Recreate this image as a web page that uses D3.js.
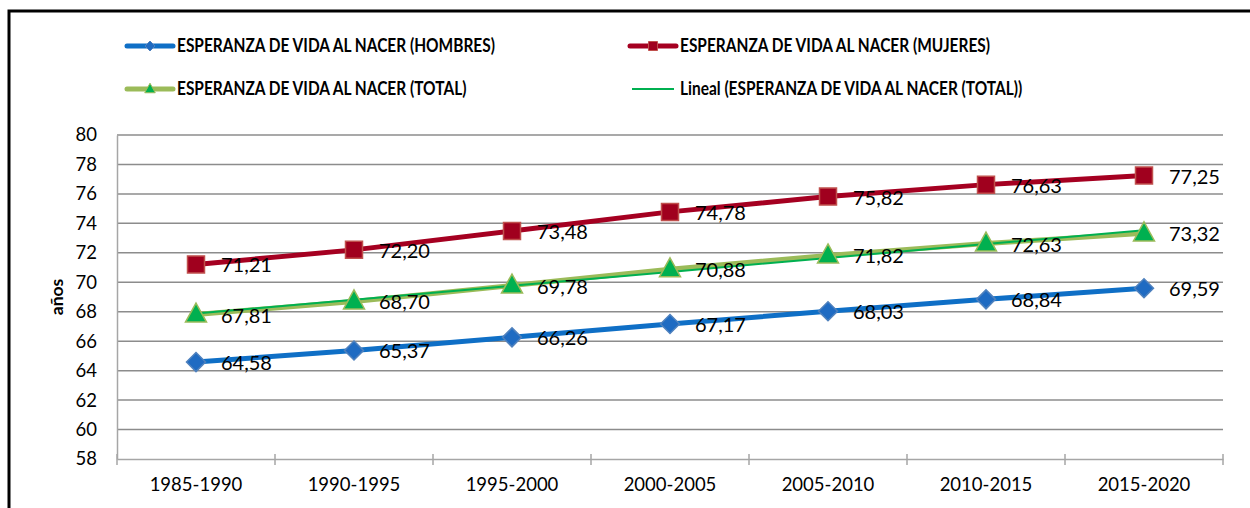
<!DOCTYPE html>
<html><head><meta charset="utf-8">
<script src="https://cdn.jsdelivr.net/npm/d3@7"></script>
<style>
html,body{margin:0;padding:0;background:#fff;}
svg{display:block;font-family:Lato,"Open Sans",sans-serif;}
</style></head>
<body><svg id="c" width="1250" height="508"></svg>
<script>
const categories = ["1985-1990","1990-1995","1995-2000","2000-2005","2005-2010","2010-2015","2015-2020"];
const hombres = [64.58,65.37,66.26,67.17,68.03,68.84,69.59];
const mujeres = [71.21,72.20,73.48,74.78,75.82,76.63,77.25];
const total   = [67.81,68.70,69.78,70.88,71.82,72.63,73.32];
const yTicks = [58,60,62,64,66,68,70,72,74,76,78,80];
const legendLabels = ["ESPERANZA DE VIDA AL NACER (HOMBRES)","ESPERANZA DE VIDA AL NACER (MUJERES)","ESPERANZA DE VIDA AL NACER (TOTAL)","Lineal (ESPERANZA DE VIDA AL NACER (TOTAL))"];
const yTitle = "años";

const svg = d3.select("#c");
// outer frame
svg.append("rect").attr("x",9).attr("y",11).attr("width",1260).attr("height",520)
  .attr("fill","none").attr("stroke","#000").attr("stroke-width",3);

const L=117,R=1223,T=135,B=459;
const x = d3.scaleBand().domain(categories).range([L,R]);
const y = d3.scaleLinear().domain([58,80]).range([B,T]);
const cx = d => x(d)+x.bandwidth()/2;

// gridlines
svg.append("g").selectAll("line").data(yTicks.slice(1)).join("line")
  .attr("x1",L).attr("x2",R).attr("y1",d=>y(d)).attr("y2",d=>y(d))
  .attr("stroke","#8c8c8c").attr("stroke-width",1.5);

// y axis
const yAx = svg.append("g").attr("transform",`translate(${L},0)`)
  .call(d3.axisLeft(y).tickValues(yTicks).tickSize(0).tickPadding(20).tickFormat(d3.format("d")));
yAx.select(".domain").attr("stroke","#a6a6a6").attr("stroke-width",1.5);
yAx.selectAll("text").attr("font-size",18.5).attr("fill","#000").attr("font-family","Lato,'Open Sans',sans-serif");

// x axis
const xAx = svg.append("g").attr("transform",`translate(0,${B})`)
  .call(d3.axisBottom(x).tickSize(0).tickPadding(19));
xAx.select(".domain").attr("stroke","#a6a6a6").attr("stroke-width",1.5);
xAx.selectAll("text").attr("font-size",18.5).attr("fill","#000").attr("font-family","Lato,'Open Sans',sans-serif");
// boundary tick marks
const bounds = categories.map(c=>x(c)).concat([R]);
svg.append("g").selectAll("line").data(bounds).join("line")
  .attr("x1",d=>d).attr("x2",d=>d).attr("y1",B-5).attr("y2",B+6)
  .attr("stroke","#a6a6a6").attr("stroke-width",1.5);

// y title
svg.append("text").attr("transform",`translate(63,${(T+B)/2}) rotate(-90)`)
  .attr("text-anchor","middle").attr("font-weight","bold").attr("font-size",17.5).text(yTitle);

const line = d3.line().x((d,i)=>cx(categories[i])).y(d=>y(d));

// trend line for total (least squares)
const n = total.length, xs = d3.range(1,n+1);
const mx = d3.mean(xs), my = d3.mean(total);
const slope = d3.sum(xs.map((v,i)=>(v-mx)*(total[i]-my)))/d3.sum(xs.map(v=>(v-mx)*(v-mx)));
const icpt = my - slope*mx;
const trend = xs.map(v=>icpt+slope*v);

const series = [
  {vals:hombres, color:"#0f6fc6", w:5, marker:"diamond", fill:"#1f6bc2", stroke:"#4f81bd"},
  {vals:mujeres, color:"#a50021", w:5, marker:"square", fill:"#a0001e", stroke:"#c0504d"},
  {vals:total, color:"#9bbb59", w:5, marker:"triangle", fill:"#00b050", stroke:"#9bbb59"}
];
series.forEach(s=>{
  svg.append("path").datum(s.vals).attr("d",line).attr("fill","none")
    .attr("stroke",s.color).attr("stroke-width",s.w).attr("stroke-linejoin","round");
});
svg.append("path").datum(trend).attr("d",line).attr("fill","none").attr("stroke","#00b050").attr("stroke-width",2);

function marker(g,type,cxp,cyp,size,fill,stroke,sw){
  let p;
  if(type==="diamond") p=`M${cxp},${cyp-size}L${cxp+size},${cyp}L${cxp},${cyp+size}L${cxp-size},${cyp}Z`;
  else if(type==="square") p=`M${cxp-size},${cyp-size}h${2*size}v${2*size}h${-2*size}Z`;
  else p=`M${cxp},${cyp-size*1.15}L${cxp+size*1.05},${cyp+size*0.75}L${cxp-size*1.05},${cyp+size*0.75}Z`;
  g.append("path").attr("d",p).attr("fill",fill).attr("stroke",stroke).attr("stroke-width",sw);
}
const mg = svg.append("g");
series.forEach(s=>{
  s.vals.forEach((v,i)=>{
    const sz = s.marker==="diamond"?9.5:(s.marker==="square"?8.5:10);
    marker(mg,s.marker,cx(categories[i]),y(v),sz,s.fill,s.stroke,1.5);
  });
});
// data labels
const fmt = v=>v.toFixed(2).replace(".",",");
series.forEach(s=>{
  svg.append("g").selectAll("text").data(s.vals).join("text")
    .attr("x",(d,i)=>cx(categories[i])+25).attr("y",d=>y(d)).attr("dy","0.4em")
    .attr("font-size",20).attr("fill","#000").text(fmt);
});

// legend
const leg = [
  {x:127,y:46,label:legendLabels[0],s:series[0]},
  {x:630,y:46,label:legendLabels[1],s:series[1]},
  {x:127,y:89,label:legendLabels[2],s:series[2]},
  {x:630,y:89,label:legendLabels[3],s:null}
];
leg.forEach(l=>{
  const g = svg.append("g");
  if(l.s){
    g.append("line").attr("x1",l.x).attr("x2",l.x+46).attr("y1",l.y).attr("y2",l.y)
      .attr("stroke",l.s.color).attr("stroke-width",5).attr("stroke-linecap","round");
    const sz = l.s.marker==="diamond"?5:(l.s.marker==="square"?4.5:5);
    marker(g,l.s.marker,l.x+23,l.y,sz,l.s.fill,l.s.stroke,1);
  } else {
    g.append("line").attr("x1",l.x+2).attr("x2",l.x+44).attr("y1",l.y).attr("y2",l.y)
      .attr("stroke","#00b050").attr("stroke-width",2);
  }
  g.append("text").attr("transform",`translate(${l.x+50},${l.y}) scale(0.86,1)`).attr("dy","0.36em")
    .attr("font-size",18).attr("font-weight","bold").text(l.label);
});
</script></body></html>
